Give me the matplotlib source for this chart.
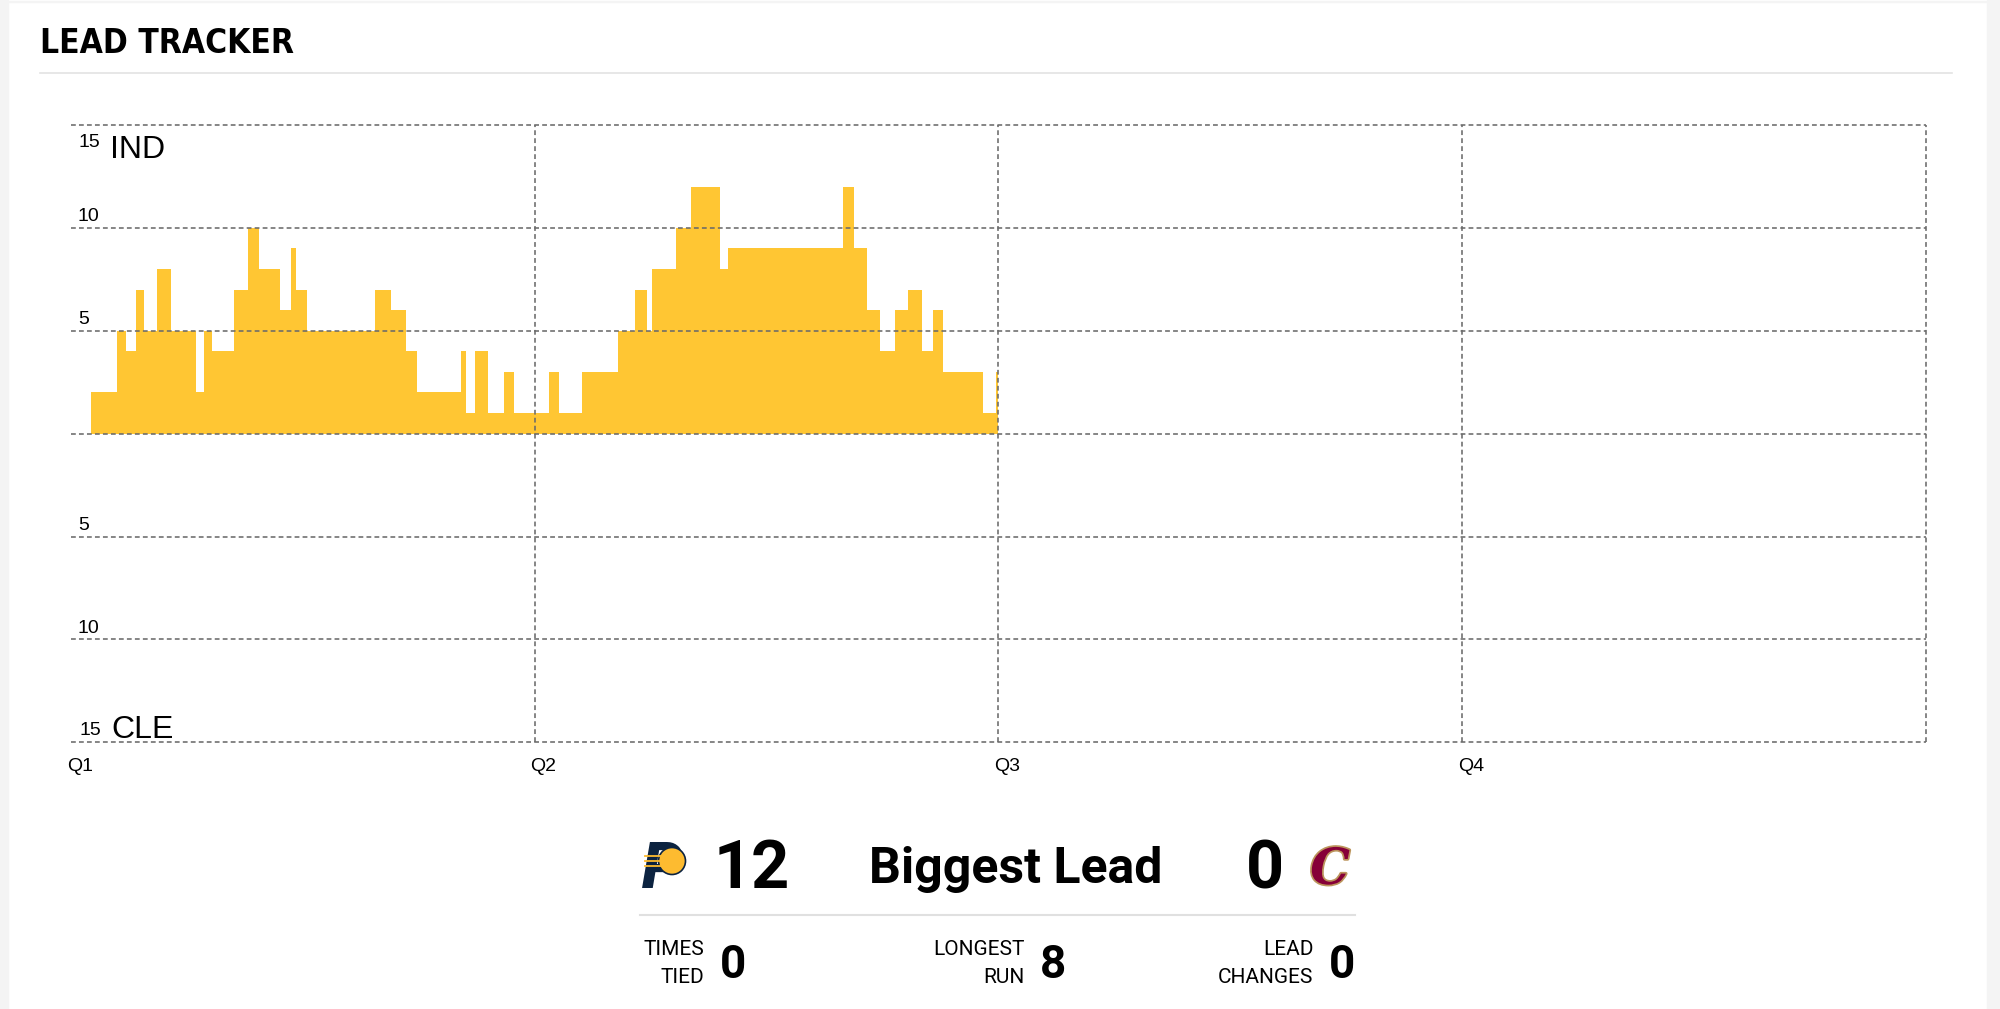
import matplotlib.pyplot as plt
from matplotlib.patches import Rectangle, Ellipse
from matplotlib.lines import Line2D
import matplotlib.patheffects as pe

# game minute at which the lead changed, and IND lead from then on
minutes = [0.0, 0.52, 1.20, 1.42, 1.69, 1.89, 2.22, 2.59, 3.24, 3.45, 3.65, 4.23,
           4.58, 4.87, 5.41, 5.69, 5.83, 6.11, 7.87, 8.29, 8.68, 8.95, 10.09,
           10.23, 10.45, 10.79, 11.20, 11.47, 12.36, 12.64, 13.23, 14.17, 14.61,
           14.91, 15.03, 15.66, 16.06, 16.81, 17.01, 19.97, 20.27, 20.60, 20.94,
           21.33, 21.67, 22.03, 22.32, 22.58, 23.61, 23.93, 24.0]
lead = [0, 2, 5, 4, 7, 5, 8, 5, 2, 5, 4, 7,
        10, 8, 6, 9, 7, 5, 7, 6, 4, 2, 4,
        1, 4, 1, 3, 1, 3, 1, 3, 5, 7,
        5, 8, 10, 12, 8, 9, 12, 9, 6, 4,
        6, 7, 4, 6, 3, 1, 3, 3]

quarters = ['Q1', 'Q2', 'Q3', 'Q4']
quarter_start = [0, 12, 24, 36]
y_ticks = [15, 10, 5, 0, -5, -10, -15]
home, away = 'IND', 'CLE'

biggest_home = 12
biggest_away = 0
times_tied = 0
longest_run = 8
lead_changes = 0

W, H = 2000, 1009
fig = plt.figure(figsize=(20, 10.09), dpi=100)
fig.patch.set_facecolor('white')

def fx(x):
    return x / W

def fy(y):
    return 1 - y / H

# page background strips
grey = '#f4f4f4'
fig.patches.append(Rectangle((0, 0), fx(8), 1, transform=fig.transFigure, color=grey, zorder=0))
fig.patches.append(Rectangle((fx(1987), 0), fx(13), 1, transform=fig.transFigure, color=grey, zorder=0))
fig.patches.append(Rectangle((0, fy(2)), 1, fx(2), transform=fig.transFigure, color=grey, zorder=0))

# title
title_font = ['Liberation Sans Narrow', 'Noto Sans ExtraCondensed', 'DejaVu Sans Condensed',
              'DejaVu Sans']
fig.text(fx(40), fy(53), 'LEAD TRACKER', fontsize=24, fontweight='black',
         fontstretch='extra-condensed', family=title_font, va='baseline', ha='left')
fig.add_artist(Line2D([fx(40), fx(1952)], [fy(73), fy(73)], color='#e3e3e3', lw=1.2,
                      transform=fig.transFigure))

ax = fig.add_axes([fx(70.9), fy(742.3), fx(1925.7 - 70.9), (742.3 - 125) / H])
ax.set_xlim(0, 48)
ax.set_ylim(-15, 15)
ax.axis('off')

ax.fill_between(minutes, lead, 0, step='post', color='#ffc633', lw=0, zorder=1)

grid_kw = dict(color='#6a6a6a', lw=1.15, linestyle=(0, (3, 2)), zorder=3, clip_on=False)
for v in y_ticks:
    ax.plot([0, 48], [v, v], **grid_kw)
for q in quarter_start[1:] + [48]:
    ax.plot([q, q], [-15, 15], **grid_kw)

lab_font = ['Liberation Sans', 'DejaVu Sans']
for v in y_ticks:
    if v == 0:
        continue
    if v == 15:
        ax.annotate(str(abs(v)), xy=(0, v), xytext=(5.5, -15.5), textcoords='offset points',
                    fontsize=14, family=lab_font, va='baseline')
        ax.annotate(home, xy=(0, v), xytext=(28.5, -24), textcoords='offset points',
                    fontsize=23, family=lab_font, va='baseline')
    elif v == -15:
        ax.annotate(str(abs(v)), xy=(0, v), xytext=(6, 5.3), textcoords='offset points',
                    fontsize=14, family=lab_font, va='baseline')
        ax.annotate(away, xy=(0, v), xytext=(29, 2.9), textcoords='offset points',
                    fontsize=23, family=lab_font, va='baseline')
    else:
        ax.annotate(str(abs(v)), xy=(0, v), xytext=(5, 4.8), textcoords='offset points',
                    fontsize=14, family=lab_font, va='baseline')

for q, t in zip(quarters, quarter_start):
    ax.annotate(q, xy=(t, -15), xytext=(-3, -20.5), textcoords='offset points',
                fontsize=14, family=lab_font, va='baseline')

# summary panel
num_font = ['Roboto', 'DejaVu Sans']

# pacers mark
fig.text(fx(662), fy(888), 'P', fontsize=46, fontweight='black', fontstyle='italic',
         color='#0c2340', family=num_font, ha='center', va='baseline', zorder=5)
fig.patches.append(Ellipse((fx(672), fy(861)), 27 / W, 27 / H, transform=fig.transFigure,
                           facecolor='#fdbb30', edgecolor='#0c2340', lw=1.2, zorder=6))
for dy in (-5, 0, 5):
    fig.add_artist(Line2D([fx(645), fx(662)], [fy(861 + dy), fy(861 + dy)], color='#fdbb30',
                          lw=1.3, transform=fig.transFigure, zorder=7))
fig.text(fx(713.3), fy(888.3), str(biggest_home), fontsize=48, fontweight='bold',
         family=num_font, va='baseline', ha='left')
fig.text(fx(1015.8), fy(883.3), 'Biggest Lead', fontsize=36, fontweight='bold',
         family=num_font, va='baseline', ha='center')
fig.text(fx(1283.7), fy(888.3), str(biggest_away), fontsize=48, fontweight='bold',
         family=num_font, va='baseline', ha='right')
# cavs mark
fig.text(fx(1330), fy(884), 'C', fontsize=36, fontweight='bold', fontstyle='italic',
         color='#860038', family=['DejaVu Serif'], ha='center', va='baseline',
         path_effects=[pe.withStroke(linewidth=2.5, foreground='#bc945c')])

fig.add_artist(Line2D([fx(640), fx(1355)], [fy(915), fy(915)], color='#e0e0e0', lw=1.5,
                      transform=fig.transFigure))

stats = [(['TIMES', 'TIED'], times_tied, 704.6),
         (['LONGEST', 'RUN'], longest_run, 1024.5),
         (['LEAD', 'CHANGES'], lead_changes, 1313.3)]
for words, val, xr in stats:
    fig.text(fx(xr), fy(955), words[0], fontsize=15, family=num_font,
             ha='right', va='baseline')
    fig.text(fx(xr), fy(983), words[1], fontsize=15, family=num_font,
             ha='right', va='baseline')
    fig.text(fx(xr + 15.3), fy(978), str(val), fontsize=33, fontweight='bold',
             family=num_font, ha='left', va='baseline')

fig.savefig('out.png', dpi=100, facecolor=fig.get_facecolor())
